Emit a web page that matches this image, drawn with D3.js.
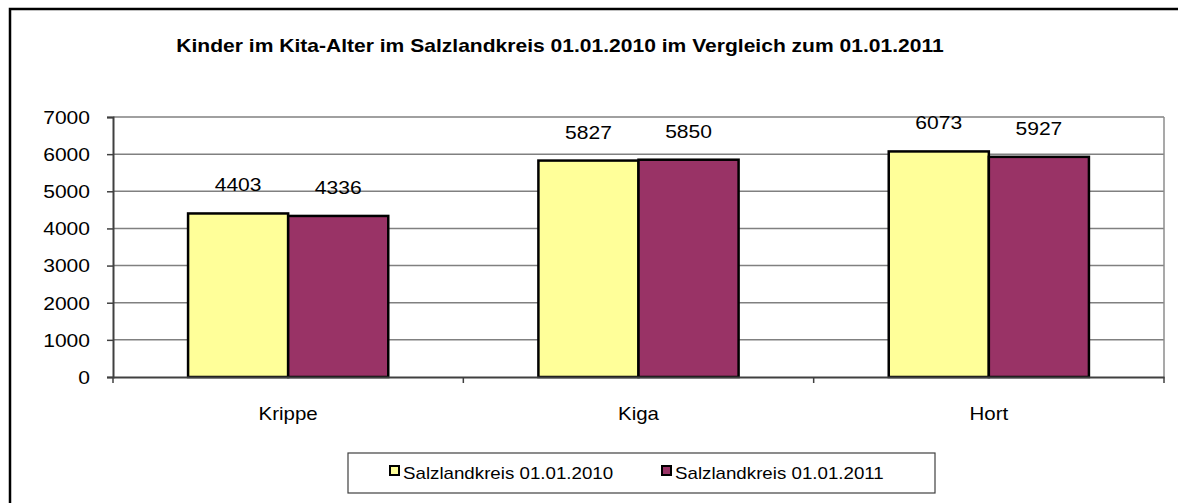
<!DOCTYPE html>
<html>
<head>
<meta charset="utf-8">
<script src="https://cdn.jsdelivr.net/npm/d3@7"></script>
<style>
  body { margin: 0; background: #fff; }
  text { font-family: "Liberation Sans", Arial, sans-serif; fill: #000; }
</style>
</head>
<body>
<div id="chart-area"></div>
<script>
var categories = ["Krippe", "Kiga", "Hort"];
var seriesNames = ["Salzlandkreis 01.01.2010", "Salzlandkreis 01.01.2011"];
var values2010 = [4403, 5827, 6073];
var values2011 = [4336, 5850, 5927];
var yTicks = [0, 1000, 2000, 3000, 4000, 5000, 6000, 7000];
var colors = ["#FFFF99", "#993366"];

var width = 1178;
var height = 503;
var sx = 1.17; // text in the picture is stretched wide

var svg = d3.select("#chart-area").append("svg")
    .attr("width", width)
    .attr("height", height);

// outer frame (only left & top visible)
svg.append("path")
    .attr("d", "M10,503 V9 H1178")
    .attr("fill", "none")
    .attr("stroke", "#000")
    .attr("stroke-width", 2.5);

function stretchText(sel, x, y) {
    sel.attr("x", 0).attr("y", 0)
        .attr("transform", "translate(" + x + "," + y + ") scale(" + sx + ",1)");
}

var plot = {left: 113, top: 117, right: 1164, bottom: 377};

var x = d3.scaleBand()
    .domain(categories)
    .range([plot.left, plot.right]);

var x1 = d3.scaleBand()
    .domain(seriesNames)
    .range([0, x.bandwidth()])
    .paddingOuter(0.75);

var y = d3.scaleLinear()
    .domain([0, 7000])
    .range([plot.bottom, plot.top]);

// gridlines
svg.append("g")
    .selectAll("line")
    .data(yTicks.slice(1))
    .enter().append("line")
        .attr("x1", plot.left)
        .attr("x2", plot.right)
        .attr("y1", d => y(d))
        .attr("y2", d => y(d))
        .attr("stroke", "#808080")
        .attr("stroke-width", 1.5);

// right border of plot area
svg.append("line")
    .attr("x1", plot.right).attr("x2", plot.right)
    .attr("y1", plot.top).attr("y2", plot.bottom)
    .attr("stroke", "#8c8c8c")
    .attr("stroke-width", 1.5);

var data = [];
categories.forEach((c, i) => {
    data.push({cat: c, s: seriesNames[0], v: values2010[i], color: colors[0]});
    data.push({cat: c, s: seriesNames[1], v: values2011[i], color: colors[1]});
});

svg.append("g").selectAll("rect")
    .data(data)
    .enter().append("rect")
        .attr("x", d => x(d.cat) + x1(d.s))
        .attr("y", d => y(d.v))
        .attr("width", x1.bandwidth())
        .attr("height", d => y(0) - y(d.v))
        .attr("fill", d => d.color)
        .attr("stroke", "#000")
        .attr("stroke-width", 2.5);

// value labels
svg.append("g").selectAll("text")
    .data(data)
    .enter().append("text")
        .attr("text-anchor", "middle")
        .attr("font-size", "18px")
        .text(d => d.v)
        .each(function(d) {
            stretchText(d3.select(this), x(d.cat) + x1(d.s) + x1.bandwidth() / 2, y(d.v) - 22);
        });

// y axis
var leftAxis = d3.axisLeft(y)
    .tickValues(yTicks)
    .tickSize(6)
    .tickPadding(16)
    .tickFormat(d3.format("d"));

var gy = svg.append("g")
    .attr("transform", "translate(" + plot.left + ",0)")
    .call(leftAxis);
gy.select(".domain").attr("stroke", "#404040").attr("stroke-width", 2);
gy.selectAll(".tick line").attr("stroke", "#404040").attr("stroke-width", 1.5);
gy.selectAll(".tick text")
    .attr("font-size", "18px")
    .attr("font-family", "Liberation Sans, Arial, sans-serif")
    .attr("fill", "#000")
    .attr("dy", "0.35em")
    .attr("transform", "scale(" + sx + ",1)")
    .attr("x", -23 / sx);

// x axis
var bottomAxis = d3.axisBottom(x).tickSize(0).tickPadding(0).tickFormat("");
var gx = svg.append("g")
    .attr("transform", "translate(0," + plot.bottom + ")")
    .call(bottomAxis);
gx.select(".domain").attr("stroke", "#404040").attr("stroke-width", 2);
gx.selectAll(".tick").remove();

// category boundary ticks
var bounds = categories.map(c => x(c)).concat([plot.right]);
svg.append("g").selectAll("line")
    .data(bounds)
    .enter().append("line")
        .attr("x1", d => d).attr("x2", d => d)
        .attr("y1", plot.bottom).attr("y2", plot.bottom + 6)
        .attr("stroke", "#404040")
        .attr("stroke-width", 1.5);

svg.append("g").selectAll("text")
    .data(categories)
    .enter().append("text")
        .attr("text-anchor", "middle")
        .attr("font-size", "17.5px")
        .text(d => d)
        .each(function(d) {
            stretchText(d3.select(this), x(d) + x.bandwidth() / 2, 420);
        });

// title
var title = svg.append("text")
    .attr("text-anchor", "middle")
    .attr("font-size", "18px")
    .attr("font-weight", "bold")
    .text("Kinder im Kita-Alter im Salzlandkreis 01.01.2010 im Vergleich zum 01.01.2011");
stretchText(title, 560, 52);

// legend
var legend = svg.append("g");
legend.append("rect")
    .attr("x", 348).attr("y", 453)
    .attr("width", 587).attr("height", 40)
    .attr("fill", "#fff")
    .attr("stroke", "#404040")
    .attr("stroke-width", 1.2);

var legendX = [390, 662];
seriesNames.forEach((s, i) => {
    legend.append("rect")
        .attr("x", legendX[i]).attr("y", 466)
        .attr("width", 9).attr("height", 9)
        .attr("fill", colors[i])
        .attr("stroke", "#000")
        .attr("stroke-width", 2);
    var t = legend.append("text")
        .attr("font-size", "16px")
        .text(s);
    stretchText(t, legendX[i] + 13, 479);
});
</script>
</body>
</html>
